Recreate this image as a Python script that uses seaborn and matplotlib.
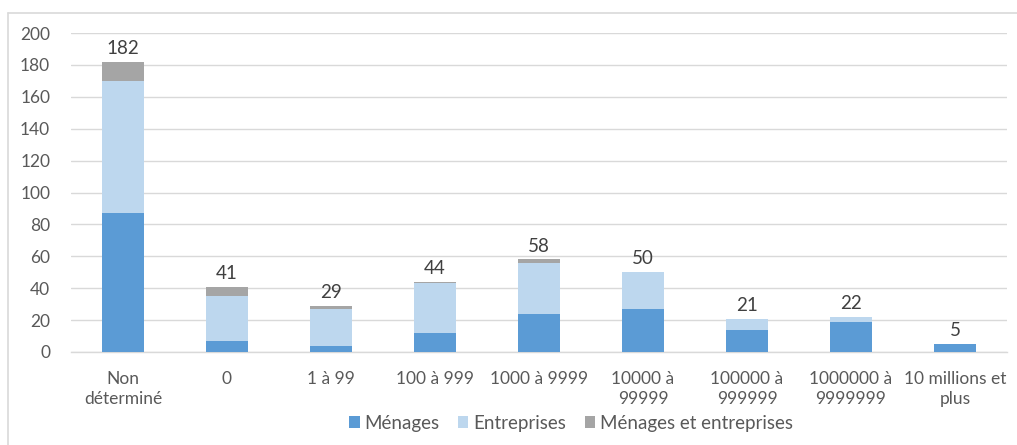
import matplotlib
matplotlib.use("Agg")
import matplotlib.pyplot as plt
from matplotlib.lines import Line2D
from matplotlib.patches import Patch
import numpy as np
import pandas as pd
import seaborn as sns

categories = ["Non\ndéterminé", "0", "1 à 99", "100 à 999", "1000 à 9999",
              "10000 à\n99999", "100000 à\n999999", "1000000 à\n9999999",
              "10 millions et\nplus"]
menages = [87, 7, 4, 12, 24, 27, 14, 19, 5]
entreprises = [83, 28, 23, 31, 32, 23, 7, 3, 0]
menages_et_entreprises = [12, 6, 2, 1, 2, 0, 0, 0, 0]
series_names = ["Ménages", "Entreprises", "Ménages et entreprises"]
colors = ["#5B9BD5", "#BDD7EE", "#A5A5A5"]
text_color = "#595959"

sns.set_theme(style="white")
plt.rcParams["font.family"] = ["Lato", "DejaVu Sans"]

df = pd.DataFrame({
    "cat": categories,
    "m": menages,
    "e": entreprises,
    "me": menages_et_entreprises,
})
df["lvl1"] = df["m"]
df["lvl2"] = df["m"] + df["e"]
df["lvl3"] = df["m"] + df["e"] + df["me"]

W, H = 1017, 445
fig = plt.figure(figsize=(W / 100, H / 100), dpi=100)
# chart-area border: top and left edges
frame_kw = dict(transform=fig.transFigure, color="#D9D9D9", linewidth=1.2)
fig.lines.append(Line2D([8 / W, 1.0], [1 - 12.5 / H, 1 - 12.5 / H], **frame_kw))
fig.lines.append(Line2D([8 / W, 8 / W], [0.0, 1 - 12.5 / H], **frame_kw))

ax = fig.add_axes([71 / W, 1 - 352 / H, 936 / W, (352 - 33) / H])

# stacked bars drawn as cumulative layers, tallest first
for col, color in zip(["lvl3", "lvl2", "lvl1"], colors[::-1]):
    sns.barplot(data=df, x="cat", y=col, color=color, width=0.4,
                saturation=1, ax=ax, zorder=3, linewidth=0)

ax.set_ylim(0, 200)
ax.set_xlim(-0.5, len(categories) - 0.5)
ax.set_yticks(range(0, 201, 20))
ax.yaxis.grid(True, color="#D9D9D9", linewidth=1.0, zorder=0)
ax.set_axisbelow(True)
for s in ["top", "right", "left"]:
    ax.spines[s].set_visible(False)
ax.spines["bottom"].set_color("#D9D9D9")
ax.spines["bottom"].set_linewidth(1.0)
ax.set_xlabel("")
ax.set_ylabel("")
ax.tick_params(axis="both", length=0, labelsize=12.5, colors=text_color)
ax.tick_params(axis="y", pad=15)
ax.tick_params(axis="x", pad=14)
for lbl in ax.get_xticklabels():
    lbl.set_linespacing(1.25)

totals = df["lvl3"].tolist()
for i, t in enumerate(totals):
    ax.annotate(str(t), (i, t), xytext=(0, 3.5), textcoords="offset points",
                ha="center", va="bottom", fontsize=13.5, color="#404040")

handles = [Patch(facecolor=c, edgecolor="none") for c in colors]
fig.legend(handles, series_names, loc="center", bbox_to_anchor=(571 / W, 1 - 423 / H),
           ncol=3, frameon=False, fontsize=13.5, labelcolor=text_color,
           handlelength=0.55, handleheight=0.55, handletextpad=0.25, columnspacing=1.0)

fig.savefig("out.png", dpi=100, facecolor="white")
